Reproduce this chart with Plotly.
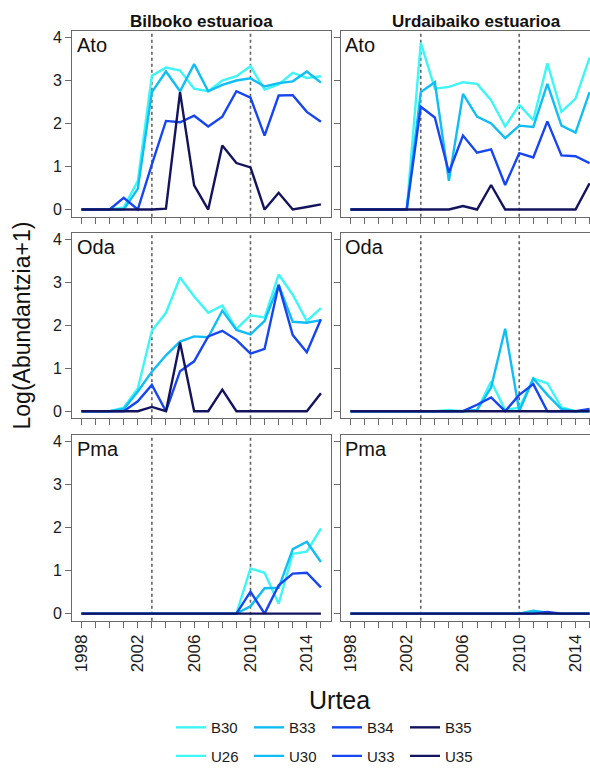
import plotly.graph_objects as go

# ---------------- data ----------------
years = list(range(1998, 2016))
breaks = [2003, 2010]
tick_years = [1998, 2002, 2006, 2010, 2014]
y_ticks = [0, 1, 2, 3, 4]
species = ["Ato", "Oda", "Pma"]
estuaries = ["Bilboko estuarioa", "Urdaibaiko estuarioa"]
bilbo_names = ["B30", "B33", "B34", "B35"]
urdai_names = ["U26", "U30", "U33", "U35"]
colors = ["#3EF6F6", "#10BEF5", "#1646F0", "#13135E"]

# Bilbao – Ato
ato_B30 = [0, 0, 0, 0.05, 0.66, 3.11, 3.30, 3.23, 2.81, 2.75, 3.00, 3.10, 3.33, 2.79, 2.91, 3.18, 3.06, 3.10]
ato_B33 = [0, 0, 0, 0, 0.48, 2.73, 3.21, 2.75, 3.38, 2.75, 2.90, 3.00, 3.05, 2.86, 2.94, 2.98, 3.21, 2.95]
ato_B34 = [0, 0, 0, 0.27, 0, 1.05, 2.06, 2.03, 2.18, 1.93, 2.16, 2.75, 2.60, 1.72, 2.65, 2.66, 2.27, 2.04]
ato_B35 = [0, 0, 0, 0, 0, 0, 0.02, 2.73, 0.56, 0, 1.49, 1.08, 0.98, 0, 0.39, 0, 0.06, 0.12]
# Urdaibai – Ato
ato_U26 = [0, 0, 0, 0, 0, 3.88, 2.81, 2.85, 2.96, 2.92, 2.54, 1.93, 2.43, 2.08, 3.40, 2.27, 2.58, 3.53]
ato_U30 = [0, 0, 0, 0, 0, 2.73, 2.96, 0.67, 2.69, 2.16, 2.00, 1.66, 1.95, 1.92, 2.92, 1.95, 1.79, 2.73]
ato_U33 = [0, 0, 0, 0, 0, 2.39, 2.14, 0.86, 1.72, 1.32, 1.40, 0.57, 1.31, 1.21, 2.05, 1.26, 1.24, 1.08]
ato_U35 = [0, 0, 0, 0, 0, 0, 0, 0, 0.08, 0, 0.57, 0, 0, 0, 0, 0, 0, 0.61]
# Bilbao – Oda
oda_B30 = [0, 0, 0, 0.08, 0.53, 1.87, 2.29, 3.11, 2.67, 2.29, 2.46, 1.91, 2.23, 2.18, 3.18, 2.71, 2.10, 2.40]
oda_B33 = [0, 0, 0, 0.05, 0.46, 0.92, 1.30, 1.62, 1.74, 1.72, 2.34, 1.89, 1.79, 2.10, 2.94, 2.08, 2.06, 2.12]
oda_B34 = [0, 0, 0, 0, 0.23, 0.61, 0, 0.93, 1.16, 1.74, 1.87, 1.66, 1.34, 1.45, 2.94, 1.77, 1.37, 2.14]
oda_B35 = [0, 0, 0, 0, 0, 0.10, 0, 1.60, 0, 0, 0.50, 0, 0, 0, 0, 0, 0, 0.42]
# Urdaibai – Oda
oda_U26 = [0, 0, 0, 0, 0, 0, 0, 0.03, 0, 0.02, 0.69, 0.03, 0.08, 0.76, 0.65, 0.09, 0, 0]
oda_U30 = [0, 0, 0, 0, 0, 0, 0, 0, 0, 0.03, 0.55, 1.92, 0, 0.76, 0.38, 0.05, 0, 0]
oda_U33 = [0, 0, 0, 0, 0, 0, 0, 0, 0, 0.15, 0.32, 0, 0.38, 0.63, 0, 0, 0, 0.05]
oda_U35 = [0] * 18
# Bilbao – Pma
pma_B30 = [0, 0, 0, 0, 0, 0, 0, 0, 0, 0, 0, 0, 1.05, 0.95, 0.23, 1.39, 1.44, 1.98]
pma_B33 = [0, 0, 0, 0, 0, 0, 0, 0, 0, 0, 0, 0, 0.17, 0.59, 0.60, 1.50, 1.67, 1.20]
pma_B34 = [0, 0, 0, 0, 0, 0, 0, 0, 0, 0, 0, 0, 0.51, 0, 0.66, 0.93, 0.95, 0.61]
pma_B35 = [0] * 18
# Urdaibai – Pma
pma_U26 = [0, 0, 0, 0, 0, 0, 0, 0, 0, 0, 0, 0, 0, 0.04, 0, 0, 0, 0]
pma_U30 = [0, 0, 0, 0, 0, 0, 0, 0, 0, 0, 0, 0, 0, 0.07, 0.02, 0, 0, 0]
pma_U33 = [0, 0, 0, 0, 0, 0, 0, 0, 0, 0, 0, 0, 0, 0, 0.04, 0, 0, 0]
pma_U35 = [0] * 18

panels = {
    (0, 0): [ato_B30, ato_B33, ato_B34, ato_B35],
    (0, 1): [ato_U26, ato_U30, ato_U33, ato_U35],
    (1, 0): [oda_B30, oda_B33, oda_B34, oda_B35],
    (1, 1): [oda_U26, oda_U30, oda_U33, oda_U35],
    (2, 0): [pma_B30, pma_B33, pma_B34, pma_B35],
    (2, 1): [pma_U26, pma_U30, pma_U33, pma_U35],
}

# ---------------- layout helpers ----------------
W, H = 590, 773
FONT = "Liberation Sans, Arial, sans-serif"
col_px = [(72.0, 330.5), (341.0, 590.0)]
row_px = [(29.3, 218.3), (234.6, 423.4), (440.3, 629.3)]
x_ranges = [[1997.33, 2015.68], [1997.33, 2015.03]]
y_range = [-0.165, 4.155]
header_x = [201, 476]
frame = "#6a6a6a"

fig = go.Figure()
layout = dict(
    width=W, height=H,
    margin=dict(l=0, r=0, t=0, b=0),
    plot_bgcolor="white", paper_bgcolor="white",
    font=dict(family=FONT, color="#1a1a1a"),
    showlegend=True,
)
shapes, annotations = [], []

for r in range(3):
    for c in range(2):
        idx = r * 2 + c + 1
        xa = "xaxis" if idx == 1 else f"xaxis{idx}"
        ya = "yaxis" if idx == 1 else f"yaxis{idx}"
        xref = "x" if idx == 1 else f"x{idx}"
        yref = "y" if idx == 1 else f"y{idx}"
        x0, x1 = col_px[c]
        top, bot = row_px[r]
        layout[xa] = dict(
            domain=[x0 / W, x1 / W], anchor=yref, range=x_ranges[c],
            tickmode="array", tickvals=years,
            ticktext=[str(y) if (y in tick_years and r == 2) else "" for y in years],
            tickangle=-90, ticks="outside", ticklen=6, tickcolor=frame, tickwidth=1,
            showline=True, linecolor=frame, linewidth=1, mirror=True,
            showgrid=False, zeroline=False,
            tickfont=dict(size=17, color="#1a1a1a", family=FONT),
        )
        layout[ya] = dict(
            domain=[1 - bot / H, 1 - top / H], anchor=xref, range=y_range,
            tickmode="array", tickvals=y_ticks,
            ticktext=[str(v) for v in y_ticks] if c == 0 else [""] * len(y_ticks),
            ticks="outside", ticklen=6, tickcolor=frame, tickwidth=1,
            showline=True, linecolor=frame, linewidth=1, mirror=(c == 0),
            showgrid=False, zeroline=False,
            tickfont=dict(size=16, color="#1a1a1a", family=FONT),
        )
        # dashed reference lines
        for b in breaks:
            shapes.append(dict(
                type="line", xref=xref, yref=f"{yref} domain",
                x0=b, x1=b, y0=0, y1=1,
                line=dict(color="#606060", width=1.6, dash="3px,3px"), layer="below",
            ))
        # facet label
        annotations.append(dict(
            text=species[r], xref=f"{xref} domain", yref=f"{yref} domain",
            x=0.01, y=0.995, xanchor="left", yanchor="top", showarrow=False,
            font=dict(size=20, color="#111111", family=FONT),
        ))
        names = bilbo_names if c == 0 else urdai_names
        for k, series in enumerate(panels[(r, c)]):
            fig.add_trace(go.Scatter(
                x=years, y=series, mode="lines", name=names[k],
                line=dict(color=colors[k], width=2.4),
                xaxis=xref, yaxis=yref,
                showlegend=(r == 0),
                legend="legend" if c == 0 else "legend2",
                hoverinfo="skip",
            ))
        if r == 0:
            annotations.append(dict(
                text=f"<b>{estuaries[c]}</b>", xref="paper", yref="paper",
                x=header_x[c] / W, y=1 - 20 / H, xanchor="center", yanchor="middle",
                showarrow=False,
                font=dict(size=17, color="#111111", family=FONT),
            ))

annotations.append(dict(
    text="Log(Abundantzia+1)", xref="paper", yref="paper",
    x=22 / W, y=1 - 329 / H, textangle=-90, xanchor="center", yanchor="middle",
    showarrow=False, font=dict(size=23, color="#111111", family=FONT),
))
annotations.append(dict(
    text="Urtea", xref="paper", yref="paper",
    x=339 / W, y=1 - 710 / H, xanchor="center", yanchor="middle",
    showarrow=False, font=dict(size=25, color="#111111", family=FONT),
))

leg_common = dict(
    orientation="h", xanchor="left", yanchor="middle",
    entrywidth=33, entrywidthmode="pixels",
    font=dict(size=15, color="#1a1a1a", family=FONT),
    bgcolor="rgba(0,0,0,0)", borderwidth=0, tracegroupgap=0,
)
layout["legend"] = dict(leg_common, x=171 / W, y=1 - 738 / H)
layout["legend2"] = dict(leg_common, x=171 / W, y=1 - 767 / H)
layout["shapes"] = shapes
layout["annotations"] = annotations
fig.update_layout(**layout)

fig.write_html(
    "out.html",
    config={"displayModeBar": False, "staticPlot": True},
    post_script="document.body.style.margin='0';document.body.style.padding='0';"
                "document.body.style.overflow='hidden';",
)
